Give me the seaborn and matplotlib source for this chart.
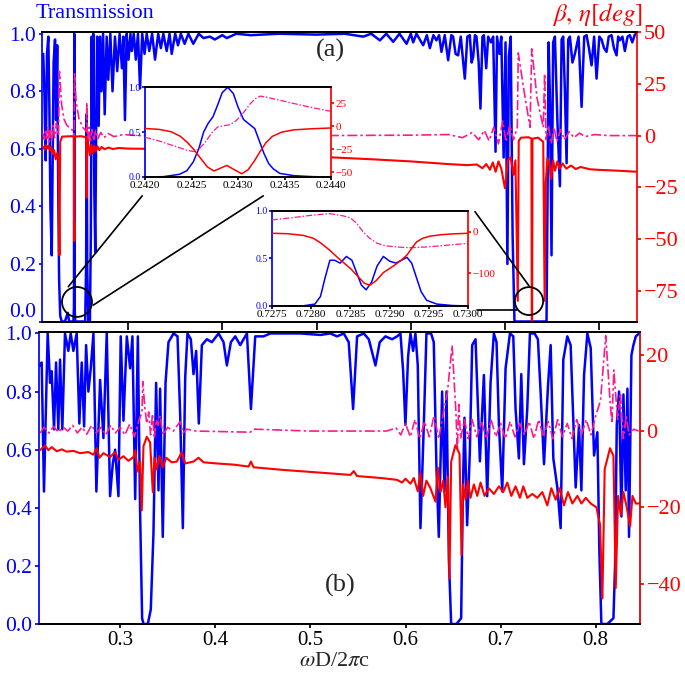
import pandas as pd
import seaborn as sns
import matplotlib.pyplot as plt
from matplotlib.patches import Ellipse, ConnectionPatch

# ---------------- data ----------------
# panel (a): transmission (left axis)
top_trans = [
    (0.2100, 0.93), (0.2112, 0.80), (0.2126, 0.56), (0.2140, 0.93), (0.2154, 0.99), (0.2165, 0.75),
    (0.2176, 0.40), (0.2190, 0.23), (0.2200, 0.55), (0.2210, 0.90), (0.2225, 0.98), (0.2236, 0.70),
    (0.2248, 0.96), (0.2258, 0.50), (0.2268, 0.15), (0.2280, 0.02), (0.2296, 0.0), (0.2330, 0.0),
    (0.2360, 0.03), (0.2375, 0.0), (0.2420, 0.0), (0.2426, 0.05), (0.2429, 1.0), (0.2432, 0.05),
    (0.2440, 0.0), (0.2500, 0.0), (0.2545, 0.0), (0.2555, 0.20), (0.2561, 0.72), (0.2567, 0.18),
    (0.2578, 0.0), (0.2595, 0.0), (0.2605, 0.30), (0.2614, 0.99), (0.2622, 0.60), (0.2631, 1.0),
    (0.2642, 0.45), (0.2652, 0.24), (0.2662, 0.70), (0.2672, 0.99), (0.2688, 0.68), (0.2702, 0.99),
    (0.2718, 0.80), (0.2735, 1.0), (0.2752, 0.72), (0.2773, 0.99), (0.2790, 0.84), (0.2812, 1.0),
    (0.2835, 0.80), (0.2861, 0.99), (0.2885, 0.87), (0.2910, 1.0), (0.2935, 0.88), (0.2950, 0.99),
    (0.2967, 0.70), (0.2985, 1.0), (0.3005, 0.91), (0.3025, 1.0), (0.3039, 0.94), (0.3060, 1.0),
    (0.3082, 0.91), (0.3105, 1.0), (0.3127, 0.81), (0.3150, 1.0), (0.3175, 0.93), (0.3198, 1.0),
    (0.3225, 0.94), (0.3255, 1.0), (0.3286, 0.91), (0.3320, 1.0), (0.3348, 0.95), (0.3374, 1.0),
    (0.3410, 0.94), (0.3440, 1.0), (0.3463, 0.93), (0.3500, 1.0), (0.3530, 0.96), (0.3560, 1.0),
    (0.3600, 0.965), (0.3640, 1.0), (0.3692, 0.965), (0.3750, 1.0), (0.3800, 0.985), (0.3869, 0.99),
    (0.3920, 0.98), (0.4000, 0.995), (0.4047, 0.985), (0.4150, 1.0), (0.4300, 0.995), (0.4600, 1.0),
    (0.5000, 0.997), (0.5300, 1.0), (0.5495, 0.99), (0.5580, 1.0), (0.5672, 0.977), (0.5740, 1.0),
    (0.5813, 0.972), (0.5880, 1.0), (0.5955, 0.965), (0.6000, 1.0), (0.6025, 0.97), (0.6060, 1.0),
    (0.6131, 0.96), (0.6170, 0.995), (0.6202, 0.95), (0.6240, 0.995), (0.6272, 0.977), (0.6300, 0.995),
    (0.6325, 0.937), (0.6360, 0.995), (0.6396, 0.908), (0.6430, 0.995), (0.6449, 0.99), (0.6475, 0.93),
    (0.6502, 0.925), (0.6530, 0.99), (0.6573, 0.844), (0.6600, 0.99), (0.6626, 0.995), (0.6645, 0.90),
    (0.6662, 0.92), (0.6680, 0.995), (0.6697, 0.99), (0.6720, 0.90), (0.6739, 0.74), (0.6760, 0.99),
    (0.6775, 0.995), (0.6800, 0.88), (0.6821, 0.99), (0.6850, 0.97), (0.6874, 0.99), (0.6899, 0.59),
    (0.6915, 0.99), (0.6940, 0.93), (0.6960, 0.99), (0.6985, 0.57), (0.7005, 0.97), (0.7025, 0.20),
    (0.7040, 0.92), (0.7060, 0.99), (0.7080, 0.30), (0.7100, 0.0), (0.7440, 0.0), (0.7450, 0.40),
    (0.7462, 0.97), (0.7478, 0.75), (0.7493, 0.23), (0.7510, 0.97), (0.7529, 0.99), (0.7555, 0.70),
    (0.7582, 0.47), (0.7600, 0.98), (0.7617, 0.99), (0.7635, 0.80), (0.7653, 0.55), (0.7670, 0.98),
    (0.7688, 0.99), (0.7715, 0.90), (0.7741, 0.93), (0.7780, 0.99), (0.7812, 0.746), (0.7840, 0.99),
    (0.7865, 0.995), (0.7890, 0.95), (0.7918, 0.89), (0.7945, 0.99), (0.7971, 0.844), (0.8000, 0.99),
    (0.8024, 0.98), (0.8050, 0.95), (0.8077, 0.937), (0.8100, 0.99), (0.8130, 0.995), (0.8155, 0.95),
    (0.8183, 0.925), (0.8200, 0.99), (0.8218, 0.977), (0.8245, 0.99), (0.8271, 0.94), (0.8300, 0.99),
    (0.8324, 0.995), (0.8350, 0.97), (0.8377, 0.997), (0.8400, 1.0),
]
# panel (a): beta (red) and eta (pink), right axis, degrees
top_beta = [
    (0.2100, -5.5), (0.2115, -6.8), (0.2128, -4.6), (0.2142, -6.2), (0.2155, -4.8), (0.2170, -7.0),
    (0.2185, -5.5), (0.2200, -9.0), (0.2215, -7.0), (0.2232, -11.5), (0.2248, -8.5), (0.2262, -12.0),
    (0.2272, -58.0), (0.2280, -3.0), (0.2300, -0.5), (0.2400, -0.3), (0.2425, -0.5), (0.2427, -49.0),
    (0.2429, -42.0), (0.2431, -51.0), (0.2433, -0.5), (0.2500, -0.3), (0.2555, -0.8), (0.2561, -30.0),
    (0.2567, -1.5), (0.2580, -4.5), (0.2595, -9.5), (0.2610, -4.5), (0.2625, -8.5), (0.2640, -4.8),
    (0.2658, -7.8), (0.2675, -5.2), (0.2695, -7.0), (0.2720, -5.5), (0.2750, -6.6), (0.2790, -5.8),
    (0.2840, -6.5), (0.2900, -6.0), (0.3000, -6.3), (0.3200, -6.4), (0.3600, -7.0), (0.4000, -8.0),
    (0.4500, -9.0), (0.5140, -10.5), (0.5600, -11.5), (0.6000, -12.5), (0.6400, -13.8), (0.6600, -14.3),
    (0.6700, -14.0), (0.6760, -15.8), (0.6800, -13.8), (0.6840, -16.5), (0.6870, -13.0), (0.6900, -17.5),
    (0.6930, -12.5), (0.6960, -16.0), (0.6999, -25.5), (0.7030, -12.0), (0.7060, -10.5), (0.7090, -19.0),
    (0.7110, -12.0), (0.7135, -80.0), (0.7145, -2.5), (0.7170, -1.0), (0.7250, -0.8), (0.7280, -1.5),
    (0.7285, -128.0), (0.7291, -1.5), (0.7350, -1.0), (0.7405, -3.0), (0.7420, -80.0), (0.7432, -22.5),
    (0.7450, -11.0), (0.7470, -13.5), (0.7490, -21.0), (0.7510, -12.0), (0.7530, -17.0), (0.7555, -12.5),
    (0.7580, -16.0), (0.7610, -13.5), (0.7650, -16.0), (0.7700, -14.5), (0.7750, -16.2), (0.7800, -15.2),
    (0.7900, -16.3), (0.8000, -16.6), (0.8200, -17.0), (0.8400, -17.5),
]
top_eta = [
    (0.2100, 1.0), (0.2112, -2.0), (0.2125, 3.0), (0.2138, -1.5), (0.2150, 4.0), (0.2163, -3.0),
    (0.2176, 2.5), (0.2190, -2.5), (0.2205, 5.0), (0.2220, -1.0), (0.2240, 6.0), (0.2262, 0.0),
    (0.2272, 31.0), (0.2295, 15.0), (0.2320, 8.0), (0.2350, 5.0), (0.2400, 3.0), (0.2424, 2.0),
    (0.2426, -25.0), (0.2429, 0.0), (0.2432, 30.0), (0.2450, 16.0), (0.2480, 8.0), (0.2520, 4.0),
    (0.2558, 2.0), (0.2562, 16.0), (0.2568, -3.0), (0.2585, 4.0), (0.2600, -3.5), (0.2618, 3.0),
    (0.2635, -2.5), (0.2655, 2.5), (0.2680, -1.5), (0.2710, 1.5), (0.2745, -1.0), (0.2790, 1.0),
    (0.2850, -0.5), (0.2950, 0.5), (0.3100, 0.0), (0.4000, 0.3), (0.5000, 0.0), (0.6000, 0.2),
    (0.6400, 0.5), (0.6550, -1.0), (0.6650, 1.5), (0.6720, -2.0), (0.6780, 2.5), (0.6830, -2.5),
    (0.6880, 4.0), (0.6930, -4.0), (0.6975, 7.0), (0.7010, -3.0), (0.7050, 5.0), (0.7090, -2.0),
    (0.7130, 4.0), (0.7140, 40.0), (0.7200, 22.0), (0.7265, 4.0), (0.7283, 42.0), (0.7340, 18.0),
    (0.7405, 4.0), (0.7420, 30.0), (0.7435, -2.0), (0.7460, 5.0), (0.7490, -4.0), (0.7520, 4.0),
    (0.7550, -3.0), (0.7590, 3.0), (0.7630, -2.0), (0.7680, 2.0), (0.7730, -1.0), (0.7790, 1.2),
    (0.7850, -0.5), (0.7950, 0.5), (0.8100, 0.0), (0.8400, 0.0),
]

# panel (b)
bot_trans = [
    (0.2157, 0.89), (0.2175, 0.90), (0.2199, 0.456), (0.2238, 1.0), (0.2263, 0.83), (0.2280, 0.87),
    (0.2305, 0.67), (0.2326, 0.90), (0.2350, 0.67), (0.2368, 0.91), (0.2392, 0.67), (0.2420, 1.0),
    (0.2455, 0.94), (0.2480, 1.0), (0.2508, 0.94), (0.2543, 1.0), (0.2571, 0.69), (0.2596, 0.90),
    (0.2621, 0.68), (0.2642, 0.96), (0.2666, 0.80), (0.2691, 0.88), (0.2719, 1.0), (0.2750, 0.456),
    (0.2789, 0.84), (0.2824, 0.64), (0.2859, 1.0), (0.2894, 0.44), (0.2922, 0.55), (0.2947, 0.60),
    (0.2982, 0.44), (0.3006, 0.99), (0.3035, 0.70), (0.3070, 0.99), (0.3105, 0.88), (0.3129, 0.99),
    (0.3158, 0.43), (0.3186, 0.99), (0.3210, 0.38), (0.3231, 0.02), (0.3245, 0.0), (0.3291, 0.0),
    (0.3322, 0.05), (0.3350, 0.31), (0.3378, 0.83), (0.3403, 0.46), (0.3420, 0.81), (0.3448, 0.30),
    (0.3477, 0.83), (0.3508, 0.97), (0.3561, 1.0), (0.3603, 0.99), (0.3631, 0.72), (0.3659, 0.33),
    (0.3684, 0.85), (0.3708, 1.0), (0.3743, 0.98), (0.3771, 0.86), (0.3799, 0.94), (0.3827, 0.69),
    (0.3859, 0.96), (0.3912, 0.98), (0.3964, 0.97), (0.4035, 1.0), (0.4087, 0.97), (0.4122, 0.89),
    (0.4164, 0.97), (0.4210, 0.99), (0.4262, 0.96), (0.4333, 1.0), (0.4375, 0.74), (0.4420, 0.99),
    (0.4508, 0.99), (0.4578, 1.0), (0.4719, 1.0), (0.4894, 1.0), (0.5105, 0.995), (0.5210, 1.0),
    (0.5281, 0.99), (0.5351, 1.0), (0.5403, 0.97), (0.5449, 0.74), (0.5491, 0.99), (0.5561, 1.0),
    (0.5614, 0.98), (0.5684, 0.89), (0.5729, 0.97), (0.5789, 0.99), (0.5859, 0.98), (0.5912, 0.99),
    (0.5947, 1.0), (0.5975, 0.87), (0.5999, 0.685), (0.6027, 0.92), (0.6052, 1.0), (0.6080, 0.94),
    (0.6104, 1.0), (0.6129, 0.89), (0.6157, 0.33), (0.6192, 0.68), (0.6220, 1.0), (0.6269, 1.0),
    (0.6297, 0.97), (0.6325, 0.54), (0.6350, 0.30), (0.6385, 0.80), (0.6410, 0.456), (0.6431, 0.80),
    (0.6456, 0.22), (0.6480, 0.0), (0.6536, 0.0), (0.6585, 0.02), (0.6603, 0.456), (0.6620, 0.71),
    (0.6648, 0.34), (0.6676, 0.59), (0.6701, 0.96), (0.6736, 0.98), (0.6782, 0.56), (0.6824, 0.857),
    (0.6859, 0.44), (0.6894, 0.83), (0.6929, 1.0), (0.6957, 0.97), (0.6982, 0.685), (0.7017, 0.456),
    (0.7052, 0.88), (0.7098, 1.0), (0.7133, 0.99), (0.7157, 0.74), (0.7192, 0.57), (0.7217, 0.86),
    (0.7245, 0.55), (0.7280, 0.74), (0.7308, 1.0), (0.7357, 1.0), (0.7392, 0.98), (0.7420, 0.80),
    (0.7456, 0.55), (0.7498, 0.82), (0.7526, 0.96), (0.7554, 0.57), (0.7596, 0.47), (0.7631, 0.33),
    (0.7659, 0.91), (0.7701, 0.99), (0.7736, 0.96), (0.7764, 0.70), (0.7789, 0.47), (0.7824, 0.685),
    (0.7849, 0.46), (0.7877, 0.857), (0.7912, 1.0), (0.7947, 0.95), (0.7982, 0.58), (0.8017, 0.66),
    (0.8038, 0.25), (0.8059, 0.0), (0.8122, 0.0), (0.8186, 0.02), (0.8203, 0.20), (0.8221, 0.685),
    (0.8245, 0.80), (0.8270, 0.37), (0.8291, 0.79), (0.8315, 0.46), (0.8333, 0.81), (0.8350, 0.30),
    (0.8375, 0.925), (0.8396, 0.96), (0.8421, 0.99), (0.8456, 1.0),
]
bot_beta = [
    (0.2158, -5.0), (0.2210, -3.8), (0.2245, -5.0), (0.2280, -4.2), (0.2333, -5.3), (0.2386, -4.8),
    (0.2438, -5.4), (0.2509, -5.2), (0.2579, -5.8), (0.2666, -5.5), (0.2719, -6.2), (0.2754, -4.5),
    (0.2782, -7.0), (0.2824, -5.8), (0.2894, -6.8), (0.2947, -5.5), (0.2982, -7.5), (0.3035, -6.6),
    (0.3087, -7.8), (0.3140, -6.8), (0.3158, -5.0), (0.3182, -10.6), (0.3210, -8.0), (0.3227, -20.8),
    (0.3245, -4.0), (0.3280, -1.5), (0.3315, -3.0), (0.3343, -16.0), (0.3361, -7.0), (0.3385, -10.0),
    (0.3413, -6.5), (0.3448, -9.5), (0.3484, -7.0), (0.3543, -8.2), (0.3596, -8.0), (0.3649, -5.5),
    (0.3684, -8.5), (0.3771, -8.0), (0.3824, -7.0), (0.3877, -8.2), (0.4017, -8.5), (0.4192, -8.8),
    (0.4350, -9.3), (0.4375, -8.0), (0.4403, -9.5), (0.4719, -10.2), (0.5210, -11.1), (0.5421, -11.5),
    (0.5456, -10.5), (0.5491, -11.8), (0.5736, -12.3), (0.5912, -12.8), (0.5964, -13.5), (0.5999, -12.5),
    (0.6052, -13.8), (0.6087, -12.3), (0.6129, -15.8), (0.6157, -11.0), (0.6185, -17.0), (0.6220, -13.0),
    (0.6262, -15.0), (0.6315, -18.5), (0.6340, -9.6), (0.6368, -16.0), (0.6396, -13.0), (0.6420, -20.0),
    (0.6445, -12.0), (0.6462, -38.6), (0.6480, -8.0), (0.6525, -3.7), (0.6568, -6.0), (0.6589, -32.5),
    (0.6606, -14.0), (0.6631, -18.0), (0.6655, -13.0), (0.6683, -17.5), (0.6719, -14.0), (0.6754, -17.0),
    (0.6789, -13.5), (0.6831, -17.0), (0.6876, -15.0), (0.6929, -16.5), (0.6982, -14.5), (0.7027, -16.0),
    (0.7070, -13.5), (0.7112, -17.0), (0.7157, -14.5), (0.7203, -17.5), (0.7238, -14.5), (0.7280, -17.5),
    (0.7333, -16.5), (0.7385, -17.5), (0.7438, -16.0), (0.7491, -19.5), (0.7533, -15.0), (0.7579, -18.0),
    (0.7621, -15.0), (0.7666, -19.5), (0.7708, -16.0), (0.7754, -19.0), (0.7807, -17.0), (0.7849, -19.0),
    (0.7895, -17.5), (0.7947, -19.0), (0.8007, -20.0), (0.8045, -24.6), (0.8070, -43.9), (0.8094, -10.0),
    (0.8150, -4.5), (0.8186, -6.5), (0.8210, -41.2), (0.8235, -17.0), (0.8263, -22.0), (0.8291, -16.0),
    (0.8326, -20.0), (0.8361, -25.0), (0.8386, -17.0), (0.8421, -19.0), (0.8456, -19.0),
]
bot_eta = [
    (0.2160, -0.5), (0.2200, 1.0), (0.2250, -0.5), (0.2300, 1.2), (0.2350, -0.3), (0.2400, 1.0),
    (0.2450, 0.0), (0.2500, 1.5), (0.2550, -0.5), (0.2600, 1.0), (0.2650, -0.8), (0.2700, 1.5),
    (0.2750, -0.5), (0.2800, 1.0), (0.2850, -1.0), (0.2900, 1.5), (0.2950, -0.5), (0.3000, 1.0),
    (0.3050, -1.0), (0.3100, 1.8), (0.3150, -1.5), (0.3200, 3.0), (0.3230, 5.0), (0.3238, 13.0),
    (0.3260, 6.0), (0.3280, 2.0), (0.3300, 5.0), (0.3320, -1.0), (0.3340, 4.5), (0.3360, -2.0),
    (0.3380, 3.0), (0.3400, 1.5), (0.3420, 4.0), (0.3450, -1.0), (0.3500, 1.0), (0.3560, 0.0),
    (0.3630, 2.5), (0.3660, -0.5), (0.3700, 0.5), (0.3800, 0.0), (0.4370, -0.3), (0.4400, 0.5),
    (0.5000, 0.0), (0.5800, 0.0), (0.5900, 0.8), (0.5950, -1.0), (0.6000, 2.0), (0.6050, -1.5),
    (0.6100, 3.0), (0.6150, -2.0), (0.6200, 2.5), (0.6250, -1.5), (0.6300, 4.0), (0.6350, -2.0),
    (0.6400, 5.0), (0.6440, 10.0), (0.6490, 22.5), (0.6530, 5.0), (0.6545, -5.0), (0.6560, 7.0),
    (0.6580, -2.0), (0.6620, 3.0), (0.6660, -2.0), (0.6700, 3.0), (0.6750, -1.5), (0.6800, 2.5),
    (0.6850, -2.0), (0.6900, 3.0), (0.6950, -1.5), (0.7000, 2.0), (0.7050, -2.0), (0.7100, 2.5),
    (0.7150, -1.5), (0.7200, 2.0), (0.7250, -1.0), (0.7300, 2.5), (0.7350, -2.0), (0.7400, 3.0),
    (0.7450, -1.5), (0.7500, 2.5), (0.7550, -2.0), (0.7600, 3.0), (0.7650, -1.5), (0.7700, 2.0),
    (0.7750, -2.0), (0.7800, 3.0), (0.7850, -1.0), (0.7900, 3.0), (0.7950, -1.0), (0.8000, 4.0),
    (0.8050, 8.0), (0.8105, 25.0), (0.8150, 8.0), (0.8170, 2.0), (0.8190, 16.0), (0.8230, 3.0),
    (0.8260, 10.0), (0.8290, -2.0), (0.8320, 4.0), (0.8350, -1.0), (0.8400, 0.5), (0.8450, 0.0),
]

# inset 1 (0.2420 - 0.2440)
ins1_trans = [
    (0.24200, 0.0), (0.24220, 0.004), (0.24237, 0.03), (0.24245, 0.07), (0.24252, 0.17), (0.24258, 0.32),
    (0.24263, 0.50), (0.24268, 0.60), (0.24273, 0.67), (0.24278, 0.80), (0.24283, 0.94), (0.24289, 1.0),
    (0.24295, 0.93), (0.24300, 0.78), (0.24306, 0.64), (0.24312, 0.59), (0.24318, 0.54), (0.24323, 0.40),
    (0.24328, 0.26), (0.24333, 0.15), (0.24338, 0.09), (0.24345, 0.04), (0.24360, 0.015), (0.24380, 0.004),
    (0.24400, 0.0),
]
ins1_beta = [
    (0.24200, -2.5), (0.24215, -3.5), (0.24228, -6.0), (0.24238, -11.0), (0.24246, -18.0), (0.24253, -26.0),
    (0.24260, -35.0), (0.24267, -44.0), (0.24274, -48.5), (0.24281, -45.5), (0.24288, -42.5), (0.24295, -46.5),
    (0.24304, -51.5), (0.24311, -47.0), (0.24318, -37.0), (0.24324, -27.0), (0.24330, -18.0), (0.24337, -11.0),
    (0.24347, -6.5), (0.24360, -4.0), (0.24380, -2.8), (0.24400, -2.0),
]
ins1_eta = [
    (0.24200, -12.0), (0.24215, -16.0), (0.24230, -21.0), (0.24245, -26.0), (0.24252, -27.5), (0.24258, -25.0),
    (0.24265, -17.0), (0.24272, -7.0), (0.24278, -1.0), (0.24285, 0.5), (0.24291, 1.5), (0.24297, 5.0),
    (0.24302, 10.0), (0.24307, 16.0), (0.24313, 24.0), (0.24319, 30.0), (0.24324, 32.5), (0.24332, 31.0),
    (0.24345, 28.0), (0.24360, 24.5), (0.24380, 20.0), (0.24400, 16.0),
]
# inset 2 (0.7275 - 0.7300)
ins2_trans = [
    (0.72750, 0.0), (0.72790, 0.002), (0.72805, 0.02), (0.72812, 0.10), (0.72818, 0.30), (0.72824, 0.48),
    (0.72830, 0.48), (0.72837, 0.45), (0.72845, 0.52), (0.72852, 0.48), (0.72858, 0.35), (0.72864, 0.22),
    (0.72870, 0.17), (0.72877, 0.25), (0.72884, 0.42), (0.72892, 0.52), (0.72900, 0.47), (0.72908, 0.45),
    (0.72915, 0.48), (0.72922, 0.51), (0.72928, 0.45), (0.72934, 0.30), (0.72940, 0.15), (0.72947, 0.06),
    (0.72960, 0.02), (0.72980, 0.005), (0.73000, 0.0),
]
ins2_beta = [
    (0.72750, -4.0), (0.72770, -5.0), (0.72790, -9.0), (0.72803, -16.0), (0.72813, -28.0), (0.72824, -45.0),
    (0.72835, -64.0), (0.72850, -88.0), (0.72860, -108.0), (0.72868, -124.0), (0.72875, -128.0), (0.72883, -117.0),
    (0.72892, -98.0), (0.72905, -82.0), (0.72915, -68.0), (0.72922, -56.0), (0.72928, -40.0), (0.72934, -25.0),
    (0.72942, -16.0), (0.72951, -11.0), (0.72965, -7.5), (0.72980, -5.5), (0.73000, -4.0),
]
ins2_eta = [
    (0.72750, 28.0), (0.72775, 33.0), (0.72800, 39.0), (0.72824, 43.0), (0.72840, 38.0), (0.72850, 33.0),
    (0.72858, 20.0), (0.72866, 0.0), (0.72874, -15.0), (0.72884, -28.0), (0.72895, -34.0), (0.72910, -37.0),
    (0.72926, -38.5), (0.72945, -37.0), (0.72965, -34.0), (0.72985, -30.5), (0.73000, -28.0),
]

trans_ticks = [0.0, 0.2, 0.4, 0.6, 0.8, 1.0]
freq_ticks = [0.3, 0.4, 0.5, 0.6, 0.7, 0.8]
top_deg_ticks = [50, 25, 0, -25, -50, -75]
bot_deg_ticks = [20, 0, -20, -40]
ins1_x_ticks = [0.2420, 0.2425, 0.2430, 0.2435, 0.2440]
ins2_x_ticks = [0.7275, 0.7280, 0.7285, 0.7290, 0.7295, 0.7300]

# ---------------- style ----------------
BLUE = "#0000ff"
RED = "#ff0000"
PINK = "#ff1a8c"
DASHDOT = (0, (6, 1.8, 1.5, 1.8))

sns.set_theme(style="ticks")
plt.rcParams["font.family"] = ["Liberation Serif", "DejaVu Serif"]
plt.rcParams["mathtext.fontset"] = "stix"
plt.rcParams["axes.unicode_minus"] = True

W, H = 685, 673
fig = plt.figure(figsize=(W / 100, H / 100), dpi=100)


def px_rect(left, top, right, bottom):
    return [left / W, 1 - bottom / H, (right - left) / W, (bottom - top) / H]


def trace(ax, pairs, color, lw, ls="-"):
    df = pd.DataFrame(pairs, columns=["w", "v"])
    sns.lineplot(data=df, x="w", y="v", ax=ax, color=color, lw=lw, linestyle=ls,
                 estimator=None, sort=False, legend=False)
    ax.set_xlabel("")
    ax.set_ylabel("")


def style_pair(ax, axr, size, lsize, rsize):
    ax.spines["left"].set_color(BLUE)
    ax.spines["right"].set_visible(False)
    axr.spines["left"].set_visible(False)
    axr.spines["right"].set_color(RED)
    for a in (ax, axr):
        a.spines["top"].set_color("black")
        a.spines["bottom"].set_color("black")
    ax.tick_params(axis="y", colors=BLUE, labelsize=lsize)
    axr.tick_params(axis="y", colors=RED, labelsize=rsize)
    ax.tick_params(axis="x", colors="black", labelsize=size)


# ---------------- panel (a) ----------------
ax_a = fig.add_axes(px_rect(42.3, 32.3, 637, 321.5))
ax_ar = ax_a.twinx()
trace(ax_a, top_trans, BLUE, 1.8)
trace(ax_ar, top_eta, PINK, 1.2, DASHDOT)
trace(ax_ar, top_beta, RED, 1.5)
ax_a.set_xlim(0.209, 0.840)
ax_a.set_ylim(0, 1.005)
ax_ar.set_ylim(-90, 50)
ax_a.set_xticks(freq_ticks)
ax_a.set_xticklabels([])
ax_a.set_yticks(trans_ticks)
ax_ar.set_yticks(top_deg_ticks)
style_pair(ax_a, ax_ar, 15, 15.5, 16)
ax_a.tick_params(axis="y", length=2.5, pad=2)
ax_ar.tick_params(axis="y", length=3, pad=2)
# the lowest label of (a) sits a little above its tick, as in the reference
ax_a.get_yticklabels()[0].set_va("bottom")

# ---------------- panel (b) ----------------
ax_b = fig.add_axes(px_rect(39.3, 332.3, 639.5, 624))
ax_br = ax_b.twinx()
trace(ax_b, bot_trans, BLUE, 1.8)
trace(ax_br, bot_eta, PINK, 1.2, DASHDOT)
trace(ax_br, bot_beta, RED, 1.5)
ax_b.set_xlim(0.215, 0.846)
ax_b.set_ylim(0, 1.004)
ax_br.set_ylim(-50.6, 25.9)
ax_b.set_xticks(freq_ticks)
ax_b.set_yticks(trans_ticks)
ax_br.set_yticks(bot_deg_ticks)
style_pair(ax_b, ax_br, 15, 15.5, 16)
ax_b.tick_params(axis="y", length=3, pad=2.5)
ax_b.tick_params(axis="x", length=3, pad=2)
ax_br.tick_params(axis="y", length=3, pad=2)
ax_br.spines["right"].set_color("#d40000")

# ---------------- insets ----------------
ins1 = fig.add_axes(px_rect(145, 87.3, 331, 177))
ins1r = ins1.twinx()
ins1.set_zorder(5)
ins1r.set_zorder(6)
trace(ins1, ins1_trans, BLUE, 1.1)
trace(ins1r, ins1_eta, PINK, 0.9, (0, (5, 1.5, 1.2, 1.5)))
trace(ins1r, ins1_beta, RED, 1.1)
ins1.set_xlim(0.2420, 0.2440)
ins1.set_ylim(0, 1)
ins1r.set_ylim(-55, 42)
ins1.set_xticks(ins1_x_ticks)
ins1.set_xticklabels([f"{t:.4f}" for t in ins1_x_ticks])
ins1.set_yticks([0, 0.5, 1.0])
ins1r.set_yticks([25, 0, -25, -50])
style_pair(ins1, ins1r, 8, 7, 8)

ins2 = fig.add_axes(px_rect(271.7, 210.7, 468.3, 306))
ins2r = ins2.twinx()
ins2.set_zorder(5)
ins2r.set_zorder(6)
trace(ins2, ins2_trans, BLUE, 1.1)
trace(ins2r, ins2_eta, PINK, 0.9, (0, (5, 1.5, 1.2, 1.5)))
trace(ins2r, ins2_beta, RED, 1.1)
ins2.set_xlim(0.7275, 0.7300)
ins2.set_ylim(0, 1)
ins2r.set_ylim(-178, 50)
ins2.set_xticks(ins2_x_ticks)
ins2.set_xticklabels([f"{t:.4f}" for t in ins2_x_ticks])
ins2.set_yticks([0, 0.5, 1.0])
ins2r.set_yticks([0, -100])
style_pair(ins2, ins2r, 8, 7, 8)

for a in (ins1, ins1r, ins2, ins2r):
    a.tick_params(length=2, pad=1)

# circles marking the zoomed regions, and connectors to the insets
for cx, cy, w, h in [(0.2458, 0.068, 0.0318, 0.104), (0.7254, 0.071, 0.030, 0.097)]:
    ax_ar.add_patch(Ellipse((cx, cy), w, h, transform=ax_a.transData, fill=False,
                            ec="black", lw=1.3, zorder=5, clip_on=False))

for ins, pa, pb in [(ins1, (-0.015, -0.21), (0.2366, 0.121)),
                    (ins1, (0.636, -0.21), (0.2631, 0.057)),
                    (ins2, (1.034, 0.99), (0.7254, 0.124)),
                    (ins2, (1.044, -0.042), (0.7123, 0.040))]:
    con = ConnectionPatch(xyA=pa, coordsA=ins.transAxes, xyB=pb, coordsB=ax_a.transData,
                          color="black", lw=1.2)
    con.set_zorder(3)
    fig.add_artist(con)

# ---------------- texts ----------------
fig.text(95 / W, 1 - 13 / H, "Transmission", color=BLUE, fontsize=16, ha="center", va="center")
fig.text(597 / W, 1 - 14 / H, r"$\beta,\,\eta[deg]$", color=RED, fontsize=18, ha="center", va="center")
fig.text(330 / W, 1 - 50 / H, "(a)", fontsize=19, ha="center", va="center")
fig.text(340 / W, 1 - 585 / H, "(b)", fontsize=19, ha="center", va="center")
fig.text(335 / W, 1 - 662 / H, r"$\omega$D/2$\pi$c", fontsize=16, ha="center", va="center")

fig.savefig("out.png", dpi=100)
